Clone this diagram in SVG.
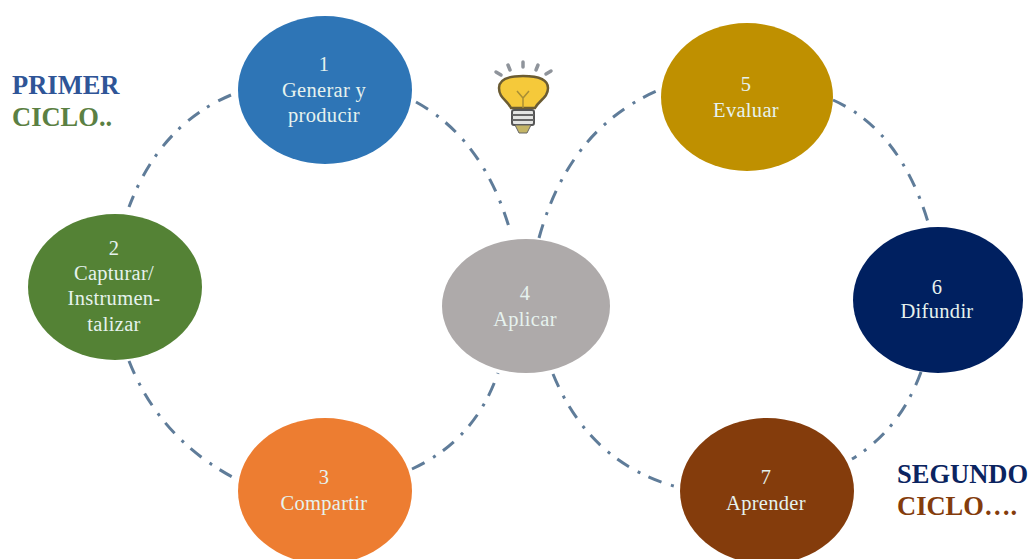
<svg xmlns="http://www.w3.org/2000/svg" width="1032" height="559" viewBox="0 0 1032 559">
<style>
.t{font-family:"Liberation Serif","Times New Roman",serif;font-size:20.5px;letter-spacing:.3px;fill:#e6f2ee;text-anchor:middle}
.h{font-family:"Liberation Serif","Times New Roman",serif;font-size:26.5px;font-weight:bold}
.c{fill:none;stroke:#5f7c99;stroke-width:3;stroke-dasharray:14 10 3 9}
</style>
<rect width="1032" height="559" fill="#fff"/>
<g id="connectors">
<path class="c" d="M231 95Q160 125 129 207"/>
<path class="c" d="M416 102Q485 140 511 234"/>
<path class="c" d="M129 361Q160 440 238 480"/>
<path class="c" d="M412 469Q475 440 498 373"/>
<path class="c" d="M539 238Q570 125 664 88"/>
<path class="c" d="M833 100Q900 130 928 222"/>
<path class="c" d="M921 372Q900 430 852 459"/>
<path class="c" d="M553 374Q590 465 681 488"/>
</g>
<g id="node1"><ellipse cx="325" cy="90" rx="87" ry="74" fill="#2e75b6"/><text class="t" x="324" y="71">1</text><text class="t" x="324" y="97">Generar y</text><text class="t" x="324" y="122">producir</text></g>
<g id="node2"><ellipse cx="115" cy="287" rx="87" ry="73" fill="#548235"/><text class="t" x="114" y="255">2</text><text class="t" x="114" y="280">Capturar/</text><text class="t" x="114" y="305">Instrumen-</text><text class="t" x="114" y="331">talizar</text></g>
<g id="node3"><ellipse cx="325" cy="491" rx="87" ry="73" fill="#ed7d31"/><text class="t" x="324" y="484">3</text><text class="t" x="324" y="510">Compartir</text></g>
<g id="node4"><ellipse cx="526" cy="306" rx="84" ry="67" fill="#aeaaaa"/><text class="t" x="525" y="300">4</text><text class="t" x="525" y="326">Aplicar</text></g>
<g id="node5"><ellipse cx="747" cy="97" rx="86" ry="74" fill="#bf9000"/><text class="t" x="746" y="91">5</text><text class="t" x="746" y="117">Evaluar</text></g>
<g id="node6"><ellipse cx="938" cy="300" rx="85" ry="73" fill="#002060"/><text class="t" x="937" y="294">6</text><text class="t" x="937" y="318">Difundir</text></g>
<g id="node7"><ellipse cx="767" cy="491" rx="87" ry="73" fill="#843c0c"/><text class="t" x="766" y="484">7</text><text class="t" x="766" y="510">Aprender</text></g>
<g id="bulb">
<g stroke="#8f949b" stroke-width="3.5" stroke-linecap="round" fill="none"><path d="M496 72L501 75"/><path d="M508 65L510 70"/><path d="M523 62L523 67"/><path d="M538 65L536 70"/><path d="M551 71L546 74"/></g>
<path d="M511 108C507 100 499 98 499 88C499 79 510 76 523 76C536 76 548 79 548 88C548 98 539 100 535 108Z" fill="#f5c93a" stroke="#6b5c33" stroke-width="2.5"/>
<path d="M517 91L523 98L529 91M523 98V108" fill="none" stroke="#a98f35" stroke-width="1.5"/>
<rect x="512" y="110" width="22" height="15" rx="2" fill="#e3e4e2" stroke="#555" stroke-width="2"/>
<path d="M512 115H534M512 120H534" stroke="#666" stroke-width="2"/>
<path d="M515 125H531L527 133H519Z" fill="#c4b566" stroke="#666"/>
</g>
<g id="labels">
<text class="h" x="12" y="94" fill="#2f5597">PRIMER</text>
<text class="h" x="12" y="126" fill="#5b8043">CICLO..</text>
<text class="h" x="897" y="483" fill="#0b2460">SEGUNDO</text>
<text class="h" x="897" y="515" fill="#843c0c">CICLO….</text>
</g>
</svg>
